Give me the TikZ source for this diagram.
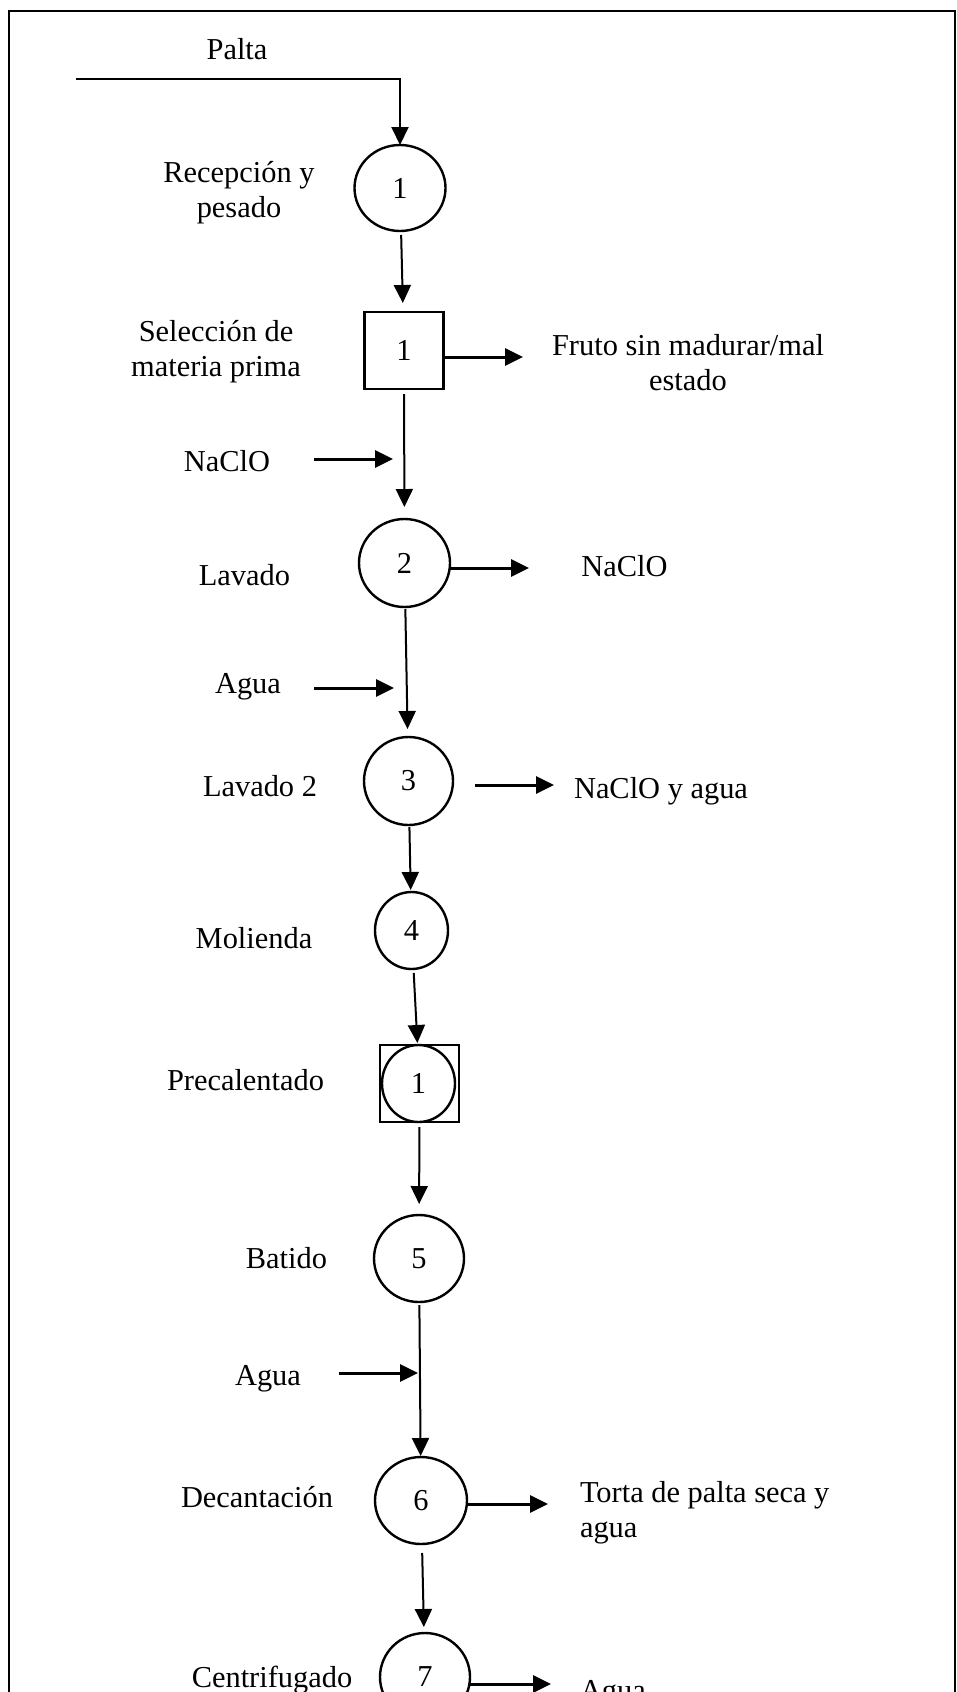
\documentclass[tikz,border=0pt]{standalone}
\usepackage{fontspec}
\setmainfont{Liberation Serif}
\usetikzlibrary{arrows.meta,shapes.geometric}
\begin{document}
\begin{tikzpicture}[x=0.5pt,y=-0.5pt,
  every node/.style={font=\fontsize{15.2}{17.5}\selectfont, inner sep=0pt, outer sep=0pt},
  txt/.style={anchor=base, align=center},
  txtl/.style={anchor=base west, align=left},
  opc/.style 2 args={draw, ellipse, line width=1.2pt, minimum width=#1, minimum height=#2},
  opsq/.style={draw, rectangle, line width=1.2pt, minimum width=39.5pt, minimum height=38.5pt},
  flow/.style={line width=1pt, -{Triangle[length=9pt,width=8.5pt]}},
  side/.style={line width=1.5pt, -{Triangle[length=9pt,width=8.5pt]}},
  frame/.style={line width=1pt}
]
\useasboundingbox (0,0) rectangle (957,1692);
\clip (0,0) rectangle (957,1692);
\draw[frame] (9,11) rectangle (955,1760);

% operation symbols
\node[opc={45.5pt}{43pt}] (c1) at (400,188) {1};
\node[opsq] (s1) at (404,350.5) {1};
\node[opc={45.5pt}{44pt}] (c2) at (404.5,563) {2};
\node[opc={44.5pt}{44pt}] (c3) at (408.5,781) {3};
\node[opc={36.5pt}{38.5pt}] (c4) at (411.5,930.5) {4};
\node[opsq] (p1) at (419.5,1083.5) {};
\node[opc={36.5pt}{38.5pt}] (p1c) at (418.5,1083.5) {\raisebox{-3.5pt}{1}};
\node[opc={45pt}{43.5pt}] (c5) at (419,1258.5) {5};
\node[opc={46pt}{43.5pt}] (c6) at (421,1500.5) {6};
\node[opc={45pt}{44pt}] (c7) at (425,1677) {7};

% labels (multi-line nodes: base = last line)
\node[txt] (palta) at (237,59) {Palta};
\node[txt] (l1) at (239,217) {Recepción y\\pesado};
\node[txt] (l2) at (216,376) {Selección de\\materia prima};
\node[txt] (o1) at (688,390) {Fruto sin madurar/mal\\estado};
\node[txt] (i1) at (227,471) {NaClO};
\node[txt] (l3) at (244.5,585) {Lavado};
\node[txt] (o2) at (624.5,576) {NaClO};
\node[txt] (i2) at (248,693) {Agua};
\node[txt] (l4) at (260,796) {Lavado 2};
\node[txt] (o3) at (661,798) {NaClO y agua};
\node[txt] (l5) at (254,948) {Molienda};
\node[txt] (l6) at (245.5,1090) {Precalentado};
\node[txt] (l7) at (286.5,1268) {Batido};
\node[txt] (i3) at (268,1385) {Agua};
\node[txt] (l8) at (257,1507) {Decantación};
\node[txtl] (o4) at (580,1537) {Torta de palta seca y\\agua};
\node[txt] (l9) at (272,1687) {Centrifugado};
\node[txtl] (o5) at (580,1700) {Agua};

% free arrow ends
\coordinate (pin) at (76,79);
\coordinate (i1s) at (314,459);
\coordinate (i1e) at (393,459);
\coordinate (i2s) at (314,688);
\coordinate (i2e) at (394,688);
\coordinate (i3s) at (339,1373);
\coordinate (i3e) at (418,1373);
\coordinate (o1e) at (523,357);
\coordinate (o2e) at (529,568);
\coordinate (o3s) at (475,785);
\coordinate (o3e) at (554,785);
\coordinate (o4e) at (548,1504);
\coordinate (o5e) at (551,1684);

% main flow
\draw[flow] (pin) -| (c1.north);
\draw[flow, shorten <=2pt, shorten >=4.5pt] (c1) -- (s1);
\draw[flow, shorten <=2.5pt, shorten >=6pt] (s1) -- (c2);
\draw[flow, shorten <=1pt, shorten >=4pt] (c2) -- (c3);
\draw[flow, shorten <=1pt, shorten >=1pt] (c3) -- (c4);
\draw[flow, shorten <=2pt, shorten >=1pt] (c4) -- (p1);
\draw[flow, shorten <=2.5pt, shorten >=5.5pt] (p1) -- (c5);
\draw[flow, shorten <=1.5pt, shorten >=0.5pt] (c5) -- (c6);
\draw[flow, shorten <=4.5pt, shorten >=3pt] (c6) -- (c7);

% inputs
\draw[side] (i1s) -- (i1e);
\draw[side] (i2s) -- (i2e);
\draw[side] (i3s) -- (i3e);

% outputs
\draw[side] (s1.east |- o1e) -- (o1e);
\draw[side] (c2.east |- o2e) -- (o2e);
\draw[side] (o3s) -- (o3e);
\draw[side] (c6.east |- o4e) -- (o4e);
\draw[side] (c7.east |- o5e) -- (o5e);
\end{tikzpicture}
\end{document}
